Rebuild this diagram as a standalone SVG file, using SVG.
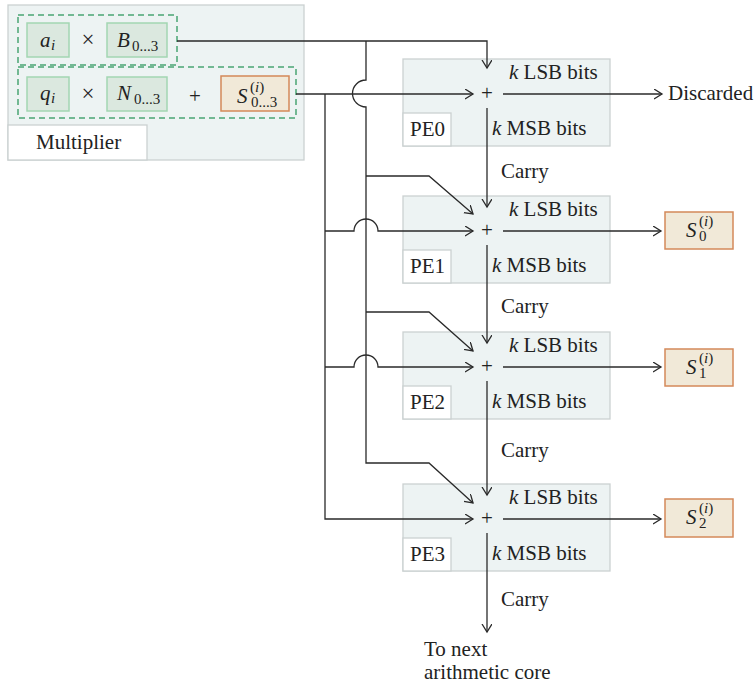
<svg xmlns="http://www.w3.org/2000/svg" width="754" height="685" viewBox="0 0 754 685">
<style>
text{font-family:"Liberation Serif","Times New Roman",serif;font-size:21px;fill:#222}
.it{font-style:italic}
.sm{font-size:15px}
.box{fill:#edf3f3;stroke:#cbd1d1;stroke-width:1.3}
.lab{fill:#fff;stroke:#cbd1d1;stroke-width:1.3}
.grn{fill:#dbe8df;stroke:#a3d6b3;stroke-width:1.5}
.dash{fill:none;stroke:#4aa574;stroke-width:1.5;stroke-dasharray:6 4}
.org{fill:#f1e9d8;stroke:#d4895a;stroke-width:1.5}
.c{fill:none;stroke:#2a2a2a;stroke-width:1.3}
.a{marker-end:url(#arr)}
</style>
<defs>
<marker id="arr" markerUnits="userSpaceOnUse" markerWidth="12" markerHeight="12" refX="8" refY="5" orient="auto">
<path d="M0,0 L8,5 L0,10" fill="none" stroke="#2a2a2a" stroke-width="1.3"/>
</marker>
</defs>

<g id="multiplier">
<rect class="box" x="8" y="5" width="296" height="155"/>
<rect class="lab" x="8" y="125" width="139" height="35"/>
<text x="36" y="149">Multiplier</text>
<rect class="dash" x="18" y="15" width="159" height="50"/>
<rect class="dash" x="18" y="67" width="278" height="51"/>
<rect class="grn" x="27" y="23" width="42" height="34"/>
<rect class="grn" x="107" y="23" width="60" height="34"/>
<rect class="grn" x="27" y="77" width="42" height="34"/>
<rect class="grn" x="107" y="77" width="60" height="34"/>
<rect class="org" x="221" y="76" width="68" height="35"/>
<text class="it" x="40" y="47">a</text><text class="it sm" x="51" y="50">i</text>
<text x="88" y="47" text-anchor="middle" style="font-size:23px">×</text>
<text class="it" x="117" y="47">B</text><text class="sm" x="132" y="51">0...3</text>
<text class="it" x="40" y="100">q</text><text class="it sm" x="51" y="103">i</text>
<text x="88" y="101" text-anchor="middle" style="font-size:23px">×</text>
<text class="it" x="117" y="100">N</text><text class="sm" x="134" y="104">0...3</text>
<text x="195" y="103" text-anchor="middle">+</text>
<text class="it" x="237" y="103">S</text><text class="sm" x="250" y="92">(<tspan class="it">i</tspan>)</text><text class="sm" x="251" y="107">0...3</text>
</g>

<g id="pe0">
<rect class="box" x="403" y="59" width="207" height="87"/>
<rect class="lab" x="403" y="113" width="48" height="33"/>
<text x="410" y="136">PE0</text>
<text x="487" y="100" text-anchor="middle">+</text>
<text x="509" y="79"><tspan class="it">k</tspan> LSB bits</text>
<text x="492" y="135"><tspan class="it">k</tspan> MSB bits</text>
</g>
<g id="pe1">
<rect class="box" x="403" y="196" width="207" height="87"/>
<rect class="lab" x="403" y="250" width="48" height="33"/>
<text x="410" y="273">PE1</text>
<text x="487" y="237" text-anchor="middle">+</text>
<text x="509" y="216"><tspan class="it">k</tspan> LSB bits</text>
<text x="492" y="272"><tspan class="it">k</tspan> MSB bits</text>
</g>
<g id="pe2">
<rect class="box" x="403" y="332" width="207" height="87"/>
<rect class="lab" x="403" y="386" width="48" height="33"/>
<text x="410" y="409">PE2</text>
<text x="487" y="373" text-anchor="middle">+</text>
<text x="509" y="352"><tspan class="it">k</tspan> LSB bits</text>
<text x="492" y="408"><tspan class="it">k</tspan> MSB bits</text>
</g>
<g id="pe3">
<rect class="box" x="403" y="484" width="207" height="87"/>
<rect class="lab" x="403" y="538" width="48" height="33"/>
<text x="410" y="561">PE3</text>
<text x="487" y="525" text-anchor="middle">+</text>
<text x="509" y="504"><tspan class="it">k</tspan> LSB bits</text>
<text x="492" y="560"><tspan class="it">k</tspan> MSB bits</text>
</g>

<g id="s0">
<rect class="org" x="665" y="212" width="68" height="37"/>
<text class="it" x="686" y="237">S</text><text class="sm" x="699" y="226">(<tspan class="it">i</tspan>)</text><text class="sm" x="699" y="241">0</text>
</g>
<g id="s1">
<rect class="org" x="665" y="349" width="68" height="37"/>
<text class="it" x="686" y="374">S</text><text class="sm" x="699" y="363">(<tspan class="it">i</tspan>)</text><text class="sm" x="699" y="378">1</text>
</g>
<g id="s2">
<rect class="org" x="665" y="499" width="68" height="38"/>
<text class="it" x="686" y="524">S</text><text class="sm" x="699" y="513">(<tspan class="it">i</tspan>)</text><text class="sm" x="699" y="528">2</text>
</g>

<g id="discarded"><text x="668" y="100">Discarded</text></g>
<g id="next"><text x="424" y="656">To next</text><text x="424" y="679">arithmetic core</text></g>

<g id="connectors">
<path class="c a" d="M177,41 H487 V68"/>
<path class="c a" d="M296,94 H473"/>
<path class="c a" d="M366,41 V80 A13.5,13.5 0 0 0 366,107 V463 H429 L473,503"/>
<path class="c a" d="M366,176 H429 L473,214"/>
<path class="c a" d="M366,312 H429 L473,351"/>
<path class="c a" d="M325,94 V519 H473"/>
<path class="c a" d="M325,231 H354 A12,12 0 0 1 378,231 H473"/>
<path class="c a" d="M325,367 H354 A12,12 0 0 1 378,367 H473"/>
<path class="c a" d="M487,108 V207"/>
<path class="c a" d="M487,245 V343"/>
<path class="c a" d="M487,381 V495"/>
<path class="c a" d="M487,533 V632"/>
<path class="c a" d="M503,94 H662"/>
<path class="c a" d="M503,231 H661"/>
<path class="c a" d="M503,367 H661"/>
<path class="c a" d="M503,519 H661"/>
<text x="501" y="178">Carry</text>
<text x="501" y="313">Carry</text>
<text x="501" y="457">Carry</text>
<text x="501" y="606">Carry</text>
</g>
</svg>
